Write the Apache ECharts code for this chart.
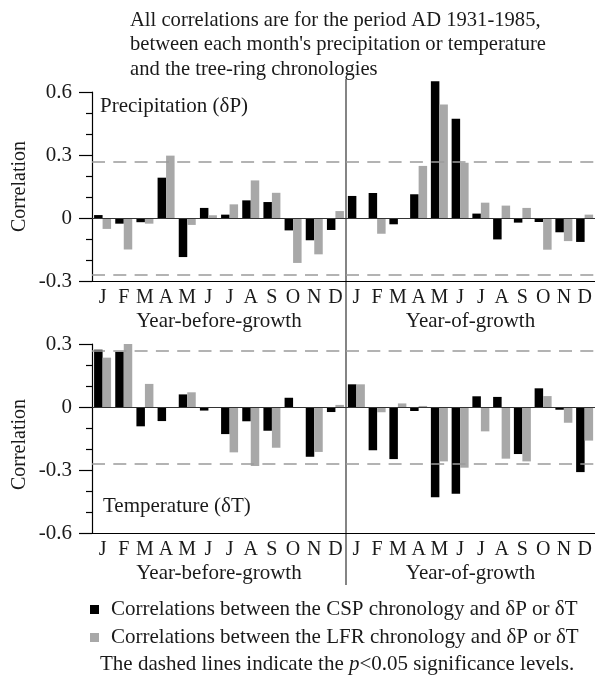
<!DOCTYPE html>
<html><head><meta charset="utf-8">
<script src="https://cdn.jsdelivr.net/npm/echarts@6/dist/echarts.min.js"></script>
<style>html,body{margin:0;padding:0;background:#fff}#c{width:595px;height:679px}</style>
</head><body><div id="c"></div>
<script>
const months = ['J','F','M','A','M','J','J','A','S','O','N','D'];
const precipCSPBefore = [0.014,-0.027,-0.02,0.192,-0.186,0.048,0.016,0.084,0.076,-0.059,-0.106,-0.057];
const precipLFRBefore = [-0.052,-0.15,-0.027,0.297,-0.033,0.013,0.065,0.179,0.12,-0.214,-0.173,0.033];
const precipCSPOf = [0.105,0.119,-0.03,0.113,0.651,0.473,0.021,-0.102,-0.022,-0.019,-0.068,-0.114];
const precipLFROf = [0,-0.075,0,0.248,0.54,0.263,0.073,0.059,0.048,-0.151,-0.11,0.016];
const tempCSPBefore = [0.273,0.263,-0.092,-0.067,0.06,-0.017,-0.129,-0.068,-0.113,0.044,-0.237,-0.024];
const tempLFRBefore = [0.235,0.30,0.11,0,0.07,0,-0.216,-0.281,-0.194,0,-0.214,0.01];
const tempCSPOf = [0.108,-0.206,-0.248,-0.019,-0.43,-0.413,0.051,0.048,-0.224,0.089,-0.013,-0.31];
const tempLFROf = [0.108,-0.025,0.017,0.005,-0.259,-0.289,-0.116,-0.246,-0.259,0.052,-0.075,-0.16];
const sigLevel = 0.274;
const precipRange = {min:-0.3, max:0.6, interval:0.3};
const tempRange = {min:-0.6, max:0.3, interval:0.3};
const halfNames = ['Year-before-growth','Year-of-growth'];
const seriesNames = ['Correlations between the CSP chronology and \u03b4P or \u03b4T',
                     'Correlations between the LFR chronology and \u03b4P or \u03b4T'];
const titleLines = ['All correlations are for the period AD 1931-1985,',
  "between each month's precipitation or temperature",
  'and the tree-ring chronologies'];

const FONT = "'Liberation Serif','Times New Roman',serif";
const FS = 20;
const FS2 = 21;
const TXT = '#1a1a1a';
const BLACK = '#000000', GRAY = '#a8a8a8';

const grids = [
  {left:92, top:92, width:254, height:189},
  {left:346, top:92, width:253, height:189},
  {left:92, top:344, width:254, height:189},
  {left:346, top:344, width:253, height:189}
];
const ranges = [precipRange, precipRange, tempRange, tempRange];
const dataSets = [
  [precipCSPBefore, precipLFRBefore],
  [precipCSPOf, precipLFROf],
  [tempCSPBefore, tempLFRBefore],
  [tempCSPOf, tempLFROf]
];

const xAxis = grids.map((g,i)=>({
  type:'category', gridIndex:i, data:months,
  axisLine:{onZero:false, lineStyle:{color:'#000', width:1.2}},
  axisTick:{show:false},
  axisLabel:{fontFamily:FONT, fontSize:FS, color:TXT, margin:7, interval:0},
  name: halfNames[i%2], nameLocation:'middle', nameGap:30,
  nameTextStyle:{fontFamily:FONT, fontSize:FS2, color:TXT}
}));
const yAxis = grids.map((g,i)=>({
  type:'value', gridIndex:i, min:ranges[i].min, max:ranges[i].max, interval:ranges[i].interval,
  show: i%2===0,
  splitLine:{show:false},
  axisLine:{show:true, lineStyle:{color:'#000', width:1.2}},
  axisTick:{show:true, length:13, lineStyle:{color:'#000', width:1.2}},
  minorTick:{show:true, splitNumber:3, length:6, lineStyle:{color:'#000', width:1.2}},
  axisLabel:{fontFamily:FONT, fontSize:FS2, color:TXT, margin:20,
    formatter:v=>Math.abs(v)<1e-9?'0':v.toFixed(1)},
  name:'Correlation', nameLocation:'middle', nameGap:62,
  nameTextStyle:{fontFamily:FONT, fontSize:FS, color:TXT, padding: i===2?[0,0,0,-12]:0}
}));

const series = [];
dataSets.forEach((pair,i)=>{
  pair.forEach((arr,k)=>{
    const s = {
      type:'bar', name:seriesNames[k], xAxisIndex:i, yAxisIndex:i,
      data:arr, barWidth:8.5, barGap:'0%', clip:false,
      itemStyle:{color: k===0?BLACK:GRAY}, silent:true, z: 3
    };
    if(k===0){
      s.markLine = {
        silent:true, symbol:'none', label:{show:false}, animation:false,
        data:[
          {yAxis:0, lineStyle:{color:'#333', width:1, type:'solid'}},
          {yAxis:sigLevel, lineStyle:{color:'#9a9a9a', width:1.5, type:[13,8.3]}},
          {yAxis:-sigLevel, lineStyle:{color:'#9a9a9a', width:1.5, type:[13,8.3]}}
        ]
      };
    }
    series.push(s);
  });
});

const chart = echarts.init(document.getElementById('c'), null, {renderer:'canvas'});
chart.setOption({
  animation:false,
  backgroundColor:'#fff',
  grid:grids,
  xAxis, yAxis, series,
  legend:{
    data:seriesNames, orient:'vertical', left:90, top:599, itemGap:7, padding:0,
    icon:'rect', itemWidth:9, itemHeight:9, selectedMode:false,
    textStyle:{fontFamily:FONT, fontSize:FS2, color:TXT, lineHeight:21, padding:[0,0,0,7]}
  },
  graphic:[
    {type:'text', left:130, top:8, style:{text:titleLines.join('\n'), font:`20.6px ${FONT}`, fill:TXT, lineHeight:24.5}},
    {type:'text', left:100, top:96, style:{text:'Precipitation (\u03b4P)', font:`${FS2}px ${FONT}`, fill:TXT}},
    {type:'text', left:103, top:496, style:{text:'Temperature (\u03b4T)', font:`${FS2}px ${FONT}`, fill:TXT}},
    {type:'line', shape:{x1:346, y1:79, x2:346, y2:585}, style:{stroke:'#333', lineWidth:1.2}},
    {type:'text', left:100, top:654, style:{
      rich:{a:{font:`${FS2}px ${FONT}`, fill:TXT}, i:{font:`italic ${FS2}px ${FONT}`, fill:TXT}},
      text:'{a|The dashed lines indicate the }{i|p}{a|<0.05 significance levels.}'}}
  ]
});
</script></body></html>
